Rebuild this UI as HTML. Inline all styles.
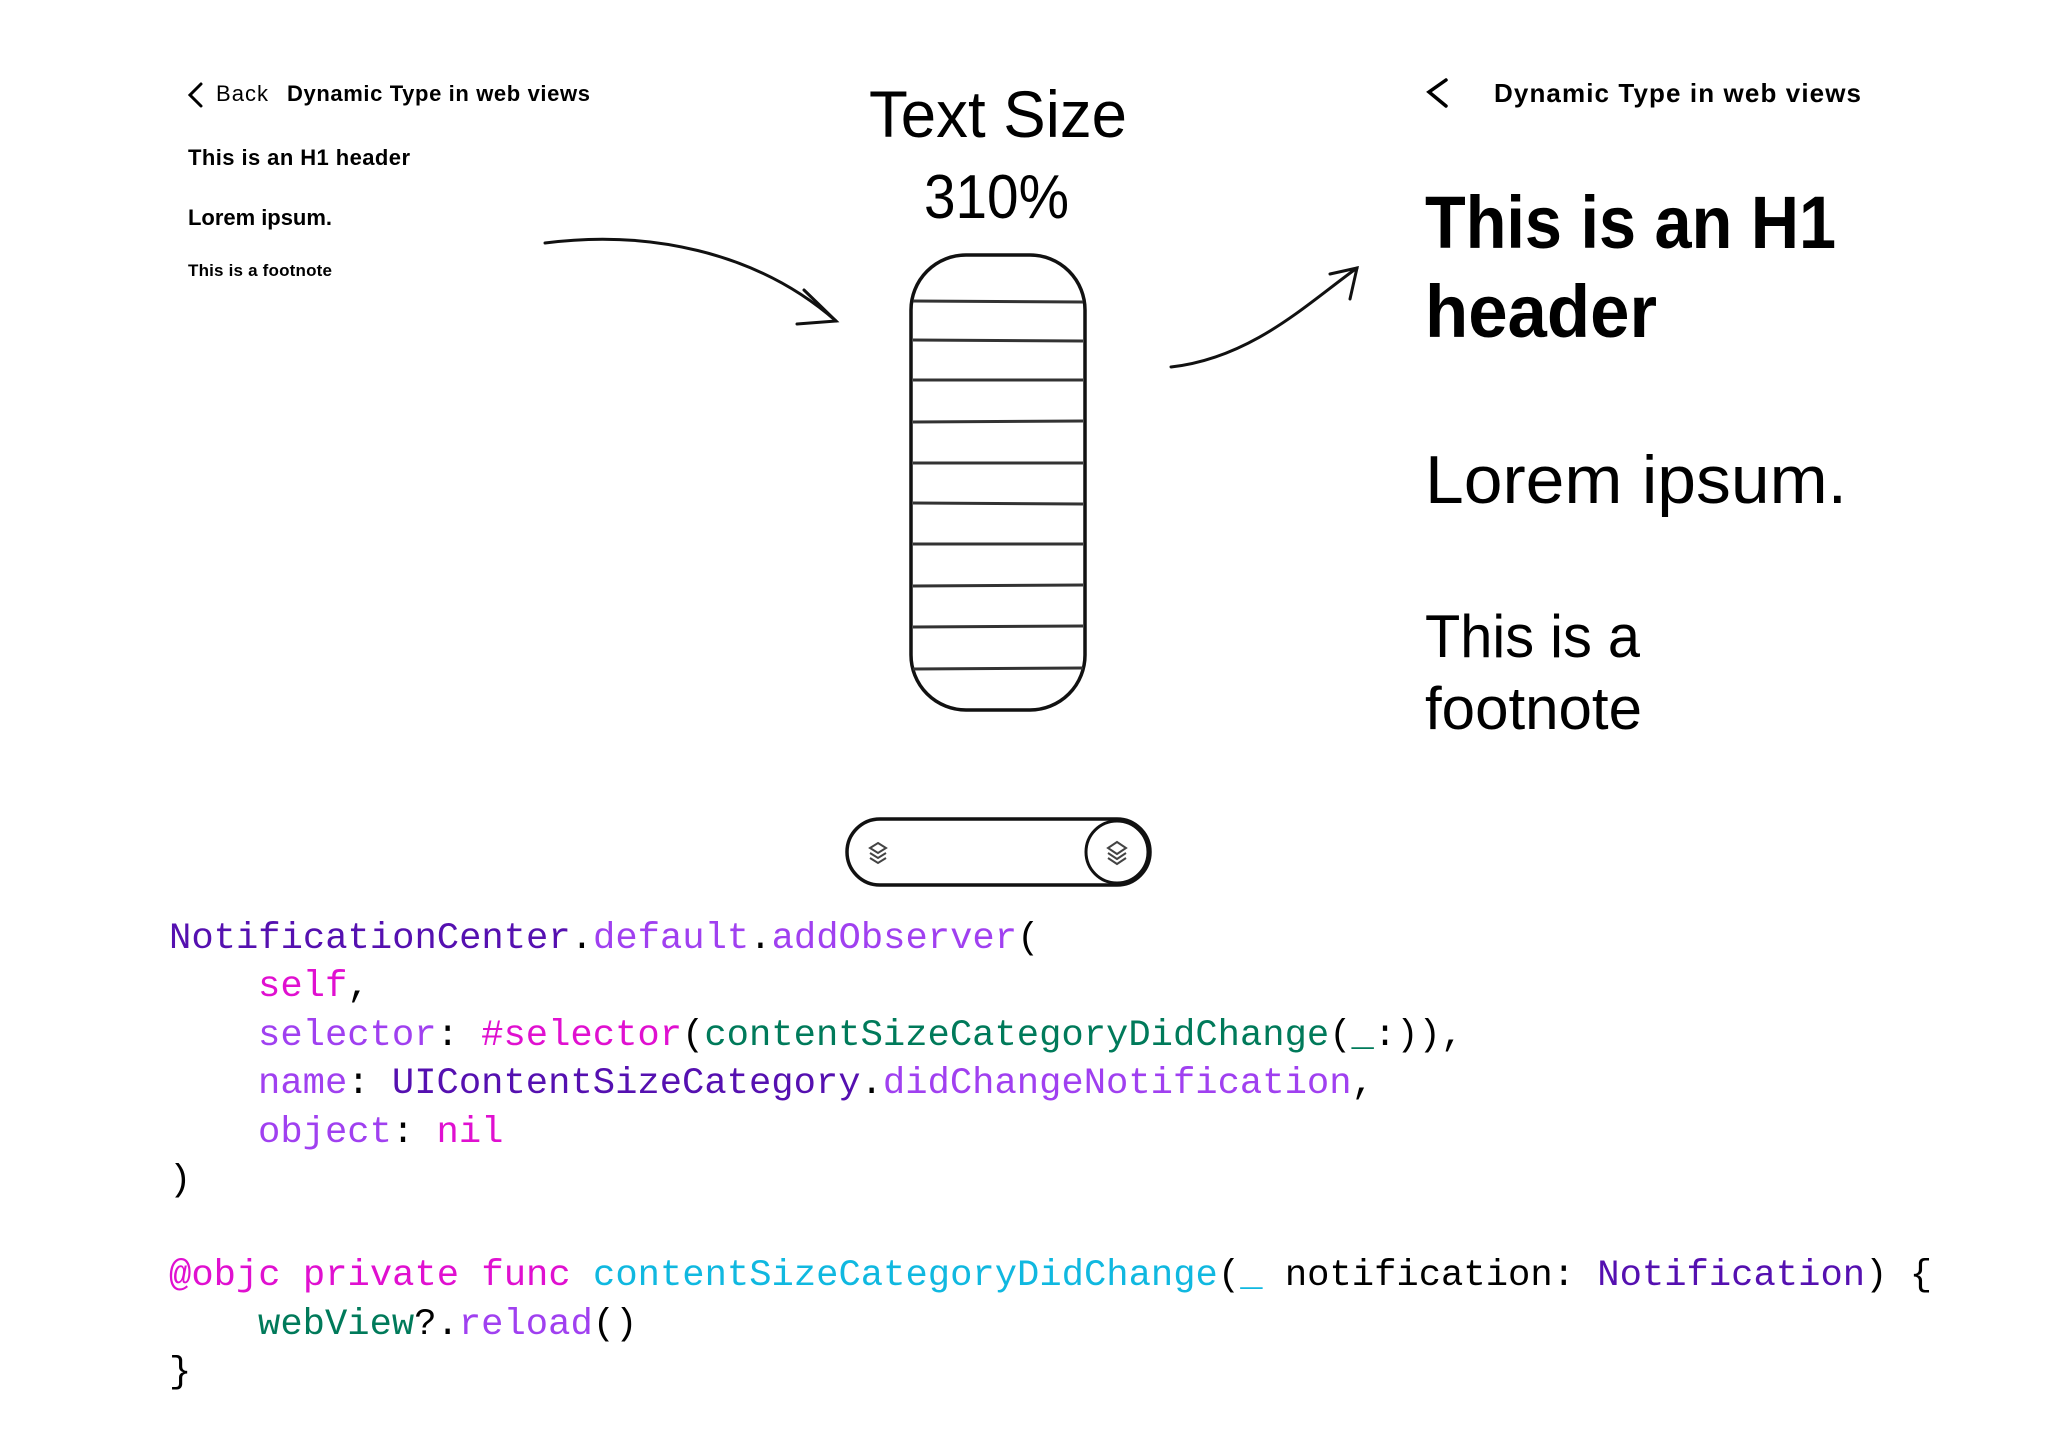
<!DOCTYPE html>
<html><head><meta charset="utf-8"><style>
html,body{margin:0;padding:0;background:#fff;}
svg{display:block}
</style></head><body>
<svg width="2048" height="1431" viewBox="0 0 2048 1431" xmlns="http://www.w3.org/2000/svg">
<rect width="2048" height="1431" fill="#fff"/>
<g font-family="Liberation Sans, sans-serif" fill="#000">
<!-- left small phone -->
<path d="M201,84 L190,95 L201,106" stroke="#000" stroke-width="3" fill="none" stroke-linecap="round"/>
<text x="216" y="101" font-size="22" textLength="52">Back</text>
<text x="287" y="101" font-size="22" font-weight="bold" textLength="303">Dynamic Type in web views</text>
<text x="188" y="165" font-size="22" font-weight="bold" textLength="222">This is an H1 header</text>
<text x="188" y="225" font-size="22" font-weight="bold" textLength="144">Lorem ipsum.</text>
<text x="188" y="276" font-size="17" font-weight="bold" textLength="144">This is a footnote</text>

<!-- center -->
<text x="869" y="137" font-size="66" textLength="258" lengthAdjust="spacingAndGlyphs">Text Size</text>
<text x="924" y="218" font-size="62" textLength="145" lengthAdjust="spacingAndGlyphs">310%</text>
<rect x="911" y="255" width="174" height="455" rx="55" fill="none" stroke="#111" stroke-width="3.5"/>
<g stroke="#333" stroke-width="3">
<line x1="913" y1="301" x2="1083" y2="302"/>
<line x1="913" y1="340" x2="1083" y2="341"/>
<line x1="913" y1="380" x2="1083" y2="380"/>
<line x1="913" y1="422" x2="1083" y2="421"/>
<line x1="913" y1="463" x2="1083" y2="463"/>
<line x1="913" y1="503" x2="1083" y2="504"/>
<line x1="913" y1="544" x2="1083" y2="544"/>
<line x1="913" y1="586" x2="1083" y2="585"/>
<line x1="913" y1="627" x2="1083" y2="626"/>
<line x1="913" y1="669" x2="1083" y2="668"/>
</g>
<!-- toggle -->
<rect x="847" y="819" width="303" height="66" rx="33" fill="none" stroke="#111" stroke-width="3.5"/>
<circle cx="1117" cy="852" r="31" fill="none" stroke="#111" stroke-width="3"/>
<g fill="none" stroke="#444" stroke-width="2">
<path d="M878,843 l8,5 -8,5 -8,-5z"/><path d="M870,853 l8,5 8,-5"/><path d="M870,858 l8,5 8,-5"/>
<path d="M1117,842 l9,6 -9,6 -9,-6z"/><path d="M1108,853 l9,6 9,-6"/><path d="M1108,858 l9,6 9,-6"/>
</g>

<!-- arrows -->
<g fill="none" stroke="#111" stroke-width="3" stroke-linecap="round">
<path d="M545,243 C645,230 755,250 836,321"/>
<path d="M804,290 L836,321 L797,324"/>
<path d="M1171,367 C1252,358 1308,303 1357,268"/>
<path d="M1330,274 L1357,268 L1350,299"/>
</g>

<!-- right phone -->
<path d="M1446,80 L1429,92 L1446,106" stroke="#000" stroke-width="3.5" fill="none" stroke-linecap="round"/>
<text x="1494" y="102" font-size="26" font-weight="bold" textLength="367">Dynamic Type in web views</text>
<text x="1425" y="248" font-size="74" font-weight="bold" textLength="411" lengthAdjust="spacingAndGlyphs">This is an H1</text>
<text x="1425" y="337" font-size="74" font-weight="bold" textLength="232" lengthAdjust="spacingAndGlyphs">header</text>
<text x="1425" y="503" font-size="68" textLength="422" lengthAdjust="spacingAndGlyphs">Lorem ipsum.</text>
<text x="1425" y="657" font-size="60" textLength="215" lengthAdjust="spacingAndGlyphs">This is a</text>
<text x="1425" y="729" font-size="60" textLength="217" lengthAdjust="spacingAndGlyphs">footnote</text>
</g>

<!-- code -->
<g font-family="Liberation Mono, monospace" font-size="37.2">
<text x="169" y="948"><tspan fill="#5510b0">NotificationCenter</tspan><tspan fill="#000">.</tspan><tspan fill="#a040f0">default</tspan><tspan fill="#000">.</tspan><tspan fill="#a040f0">addObserver</tspan><tspan fill="#000">(</tspan></text>
<text x="258" y="996"><tspan fill="#e010d0">self</tspan><tspan fill="#000">,</tspan></text>
<text x="258" y="1045"><tspan fill="#a040f0">selector</tspan><tspan fill="#000">: </tspan><tspan fill="#e010d0">#selector</tspan><tspan fill="#000">(</tspan><tspan fill="#007a5a">contentSizeCategoryDidChange</tspan><tspan fill="#000">(</tspan><tspan fill="#007a5a">_</tspan><tspan fill="#000">:)),</tspan></text>
<text x="258" y="1093"><tspan fill="#a040f0">name</tspan><tspan fill="#000">: </tspan><tspan fill="#5510b0">UIContentSizeCategory</tspan><tspan fill="#000">.</tspan><tspan fill="#a040f0">didChangeNotification</tspan><tspan fill="#000">,</tspan></text>
<text x="258" y="1142"><tspan fill="#a040f0">object</tspan><tspan fill="#000">: </tspan><tspan fill="#e010d0">nil</tspan></text>
<text x="169" y="1190" fill="#000">)</text>
<text x="169" y="1285"><tspan fill="#e010d0">@objc private func </tspan><tspan fill="#10b8e0">contentSizeCategoryDidChange</tspan><tspan fill="#000">(</tspan><tspan fill="#10b8e0">_</tspan><tspan fill="#000"> notification: </tspan><tspan fill="#5510b0">Notification</tspan><tspan fill="#000">) {</tspan></text>
<text x="258" y="1334"><tspan fill="#007a5a">webView</tspan><tspan fill="#000">?.</tspan><tspan fill="#a040f0">reload</tspan><tspan fill="#000">()</tspan></text>
<text x="169" y="1382" fill="#000">}</text>
</g>
</svg>
</body></html>
